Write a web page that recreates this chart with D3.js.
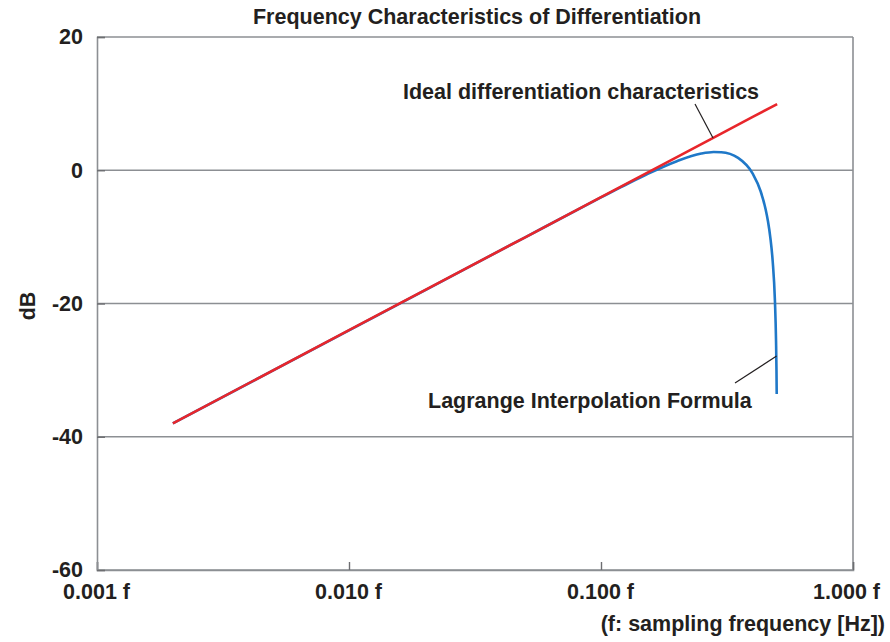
<!DOCTYPE html>
<html><head><meta charset="utf-8">
<script src="https://cdn.jsdelivr.net/npm/d3@7"></script>
<style>
html,body{margin:0;padding:0;background:#fff;}
text{font-family:"Liberation Sans",Arial,Helvetica,sans-serif;font-weight:bold;fill:#231f20;}
</style></head>
<body><svg id="c" width="890" height="642"></svg>
<script>
// ---- data ----
const xTicks = [0.001, 0.01, 0.1, 1];
const xTickLabels = ["0.001 f", "0.010 f", "0.100 f", "1.000 f"];
const yTicks = [20, 0, -20, -40, -60];
const yTickLabels = ["20", "0", "-20", "-40", "-60"];
// Ideal differentiation characteristics (dB vs fraction of sampling frequency)
const idealFreq = [0.002, 0.01, 0.05, 0.1, 0.2, 0.3, 0.4, 0.5];
const idealDb   = [-38.0, -24.0, -10.06, -4.04, 1.98, 5.5, 8.0, 9.94];
// Lagrange interpolation formula
const lagFreq = [0.002, 0.01, 0.02, 0.05, 0.1, 0.12, 0.15, 0.2, 0.25, 0.28, 0.3, 0.35, 0.4, 0.43, 0.45, 0.46, 0.47, 0.48, 0.49, 0.495, 0.497, 0.498];
const lagDb   = [-38.0, -24.04, -18.02, -10.06, -4.08, -2.54, -0.72, 1.36, 2.50, 2.74, 2.71, 1.85, -0.52, -3.15, -5.85, -7.70, -10.14, -13.62, -19.61, -25.62, -30.06, -33.58];

const title = "Frequency Characteristics of Differentiation";
const yLabel = "dB";
const xLabel = "(f: sampling frequency [Hz])";
const idealLabel = "Ideal differentiation characteristics";
const lagLabel = "Lagrange Interpolation Formula";

// ---- layout ----
const svg = d3.select("#c");
const L = 97, R = 853, T = 37, B = 570;
const x = d3.scaleLog().domain([0.001, 1]).range([L, R]);
const y = d3.scaleLinear().domain([-60, 20]).range([B, T]);
const grey = "#8c8f93";
const FS = "21.5px";

// gridlines
svg.append("g").selectAll("line").data(yTicks).join("line")
  .attr("x1", L).attr("x2", R).attr("y1", d => y(d)).attr("y2", d => y(d))
  .attr("stroke", grey).attr("stroke-width", 1.4);
// right border
svg.append("line").attr("x1", R).attr("x2", R).attr("y1", T).attr("y2", B)
  .attr("stroke", grey).attr("stroke-width", 1.6);

// x axis
const xa = svg.append("g").attr("transform", `translate(0,${B})`)
  .call(d3.axisBottom(x).tickValues(xTicks).tickSize(-8).tickPadding(14)
    .tickFormat((d, i) => xTickLabels[i]));
xa.select(".domain").attr("stroke", grey).attr("stroke-width", 1.6);
xa.selectAll(".tick line").attr("stroke", "#6d6e71").attr("stroke-width", 1.4);
xa.selectAll(".tick text").attr("font-size", FS)
  .attr("font-family", null).attr("fill", "#231f20")
  .attr("dx", (d, i) => i === xTicks.length - 1 ? -7 : -1);

// y axis
const ya = svg.append("g").attr("transform", `translate(${L},0)`)
  .call(d3.axisLeft(y).tickValues(yTicks).tickSize(-8).tickPadding(14)
    .tickFormat((d, i) => yTickLabels[i]));
ya.select(".domain").attr("stroke", grey).attr("stroke-width", 1.6);
ya.selectAll(".tick line").attr("stroke", "#6d6e71").attr("stroke-width", 1.4);
ya.selectAll(".tick text").attr("font-size", FS)
  .attr("font-family", null).attr("fill", "#231f20");

// lines
const line = d3.line().x(d => x(d[0])).y(d => y(d[1])).curve(d3.curveMonotoneX);
svg.append("path").datum(lagFreq.map((f, i) => [f, lagDb[i]]))
  .attr("d", line).attr("fill", "none").attr("stroke", "#1f78c8").attr("stroke-width", 2.6);
svg.append("path").datum(idealFreq.map((f, i) => [f, idealDb[i]]))
  .attr("d", d3.line().x(d => x(d[0])).y(d => y(d[1])))
  .attr("fill", "none").attr("stroke", "#e8262b").attr("stroke-width", 2.6);

// annotations
const ideal = (f) => idealDb[0] + (Math.log10(f) - Math.log10(idealFreq[0])) /
  (Math.log10(idealFreq[idealFreq.length-1]) - Math.log10(idealFreq[0])) * (idealDb[idealDb.length-1] - idealDb[0]);
svg.append("line").attr("x1", 695).attr("y1", 104)
  .attr("x2", x(0.2783)).attr("y2", y(ideal(0.2783)))
  .attr("stroke", "#231f20").attr("stroke-width", 1.2);
svg.append("text").attr("x", 403).attr("y", 99).attr("font-size", FS)
  .text(idealLabel);
svg.append("line").attr("x1", 735).attr("y1", 383)
  .attr("x2", x(0.4975)).attr("y2", 356)
  .attr("stroke", "#231f20").attr("stroke-width", 1.2);
svg.append("text").attr("x", 428).attr("y", 408).attr("font-size", FS)
  .text(lagLabel);

// titles
svg.append("text").attr("x", 477).attr("y", 24).attr("text-anchor", "middle")
  .attr("font-size", FS).text(title);
svg.append("text").attr("transform", "translate(35,306) rotate(-90)").attr("text-anchor", "middle")
  .attr("font-size", FS).text(yLabel);
svg.append("text").attr("x", 885).attr("y", 631).attr("text-anchor", "end")
  .attr("font-size", FS).text(xLabel);
</script></body></html>
